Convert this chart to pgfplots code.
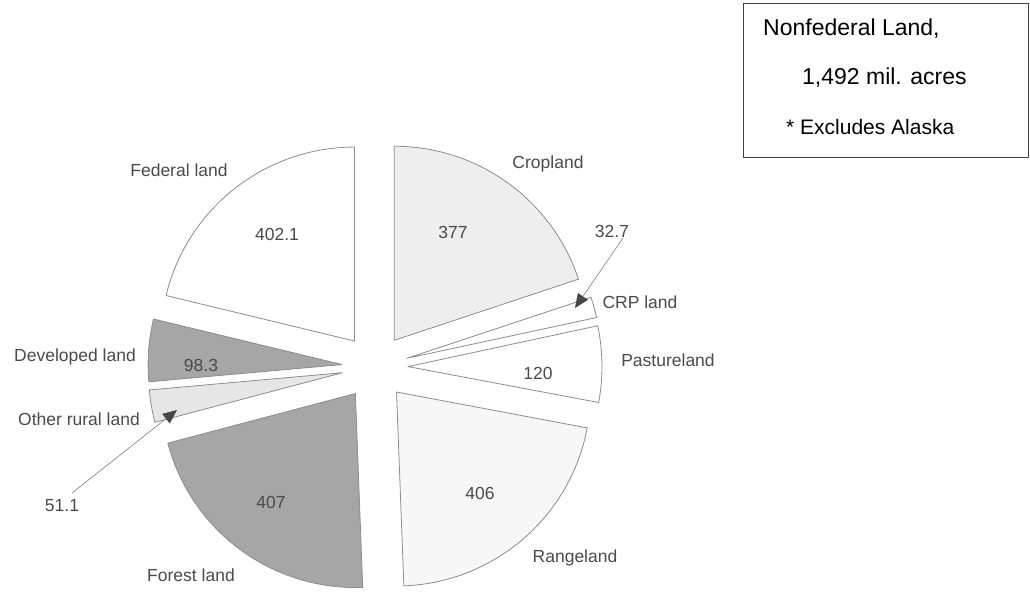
\documentclass[border=0pt]{standalone}
\usepackage{pgfplots}
\pgfplotsset{compat=1.18}
\usepackage{fontspec}
\setmainfont{Liberation Sans}
\usetikzlibrary{arrows.meta}
\definecolor{cropc}{HTML}{EEEEEE}
\definecolor{rangec}{HTML}{F7F7F7}
\definecolor{forestc}{HTML}{A6A6A6}
\definecolor{otherc}{HTML}{E6E6E6}
\definecolor{edgec}{HTML}{8C8C8C}
\definecolor{txtc}{HTML}{4A4A4A}
% total of all values
\def\total{1894.2}
% centre (375,225), radius 194, explode 33
\newcommand{\slice}[3]{%
  \pgfmathsetmacro\aA{90-(#1)/\total*360}%
  \pgfmathsetmacro\aB{90-(#1+#2)/\total*360}%
  \pgfmathsetmacro\aM{(\aA+\aB)/2}%
  \pgfmathsetmacro\px{375+33*cos(\aM)}%
  \pgfmathsetmacro\py{225+33*sin(\aM)}%
  \edef\tmp{\noexpand\filldraw[fill=#3,draw=edgec,line width=0.8pt,line join=round] (axis cs:\px,\py) -- ++(\aA:194pt) arc[start angle=\aA, end angle=\aB, radius=194pt] -- cycle;}%
  \tmp
}
\begin{document}
\begin{tikzpicture}
\begin{axis}[width=1030pt,height=592pt,scale only axis,
  xmin=0,xmax=1030,ymin=0,ymax=592,hide axis,clip=false]
% start, value, fill
\slice{0}{377}{cropc}      % Cropland
\slice{377}{32.7}{white}   % CRP land
\slice{409.7}{120}{white}  % Pastureland
\slice{529.7}{406}{rangec} % Rangeland
\slice{935.7}{407}{forestc}% Forest land
\slice{1342.7}{51.1}{otherc}% Other rural land
\slice{1393.8}{98.3}{forestc}% Developed land
\slice{1492.1}{402.1}{white}% Federal land
% arrows
\draw[edgec,line width=0.7pt,-{Triangle[length=14pt,width=12pt,color=black!72]}] (axis cs:623,354) -- (axis cs:575,284);
\draw[edgec,line width=0.7pt,-{Triangle[length=14pt,width=12pt,color=black!72]}] (axis cs:72,99) -- (axis cs:177,182);
% labels
\begin{scope}[every node/.style={font=\fontsize{17.5}{20}\selectfont,text=txtc,inner sep=0pt}]
\node at (axis cs:179,422) {Federal land};
\node at (axis cs:277,358) {402.1};
\node at (axis cs:548,428) {Cropland};
\node at (axis cs:453,360) {377};
\node at (axis cs:612,361) {32.7};
\node at (axis cs:640,290) {CRP land};
\node at (axis cs:668,232) {Pastureland};
\node at (axis cs:538,219) {120};
\node at (axis cs:575,34) {Rangeland};
\node at (axis cs:480,99) {406};
\node at (axis cs:191,17) {Forest land};
\node at (axis cs:271,90) {407};
\node at (axis cs:75,235) {Developed land};
\node at (axis cs:201,227) {98.3};
\node at (axis cs:79,173) {Other rural land};
\node at (axis cs:62,86) {51.1};
\end{scope}
% info box
\draw[black!75,line width=0.9pt] (axis cs:743,435) rectangle (axis cs:1028,589);
\node[anchor=west,inner sep=0pt,font=\fontsize{23}{26}\selectfont] at (axis cs:763,563) {Nonfederal Land,};
\node[anchor=west,inner sep=0pt,font=\fontsize{23}{26}\selectfont] at (axis cs:802,514) {1,492 mil. acres};
\node[anchor=west,inner sep=0pt,font=\fontsize{21}{24}\selectfont] at (axis cs:786,465) {* Excludes Alaska};
\end{axis}
\pgfresetboundingbox
\path (0,0) rectangle (1030pt,592pt);
\end{tikzpicture}
\end{document}
